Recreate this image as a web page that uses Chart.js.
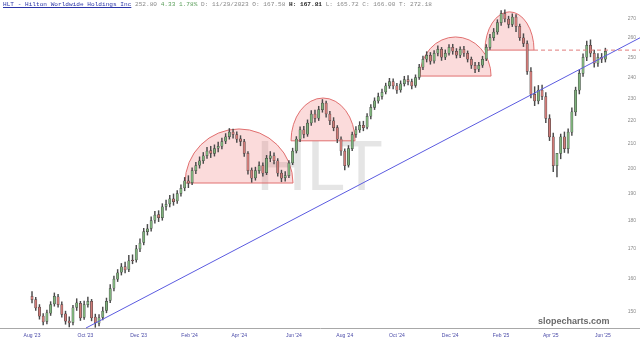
<!DOCTYPE html>
<html>
<head>
<meta charset="utf-8">
<script src="https://cdn.jsdelivr.net/npm/chart.js@4.4.1/dist/chart.umd.min.js"></script>
<style>
  body { margin: 0; background: #fff; }
  #wrap { position: relative; width: 640px; height: 345px; overflow: hidden; }
  #mark { position: absolute; left: 256px; top: 131px; font: 70px "Liberation Sans", Arial, sans-serif; line-height: 70px; color: rgba(0,0,0,0.10); z-index: 0; }
  #c { position: absolute; left: 0; top: 0; z-index: 1; }
  #head { position: absolute; left: 3px; top: 1px; z-index: 2; font-family: "Liberation Mono", "DejaVu Sans Mono", monospace; font-size: 6.2px; line-height: 8px; color: #888; white-space: pre; }
  #head a { color: #2a35a8; text-decoration: underline; }
  #head .up { color: #5a9e5a; }
  #head b { color: #222; }
  #logo { position: absolute; left: 538px; top: 317px; z-index: 2; font: bold 9px "Liberation Sans", Arial, sans-serif; line-height: 9px; color: #6a6a6a; white-space: nowrap; }
</style>
</head>
<body>
<div id="wrap">
  <div id="mark">HLT</div>
  <canvas id="c" width="640" height="345"></canvas>
  <div id="head"><a>HLT - Hilton Worldwide Holdings Inc</a> 252.80 <span class="up">4.33 1.78%</span> D: 11/29/2023 O: 167.58 <b>H: 167.81</b> L: 165.72 C: 166.00 T: 272.18</div>
  <div id="logo">slopecharts.com</div>
</div>
<script>
// one candle every 3 trading days, x = trading day index from Aug 1 2023
var step = 3;
var opens = [154.5,153.5,151.2,148.5,146.9,149.4,152.2,154.4,152,149.2,147,146.6,151.1,152.4,148.1,152,153,148.2,146.4,148.1,
  150.2,153.3,157.1,160,162.2,164.1,163.1,166.2,166.3,170,172.2,176,177.2,180.1,182.2,181,185.2,186.1,188,187.2,
  190.1,192.2,195,194.2,199,201.2,203,205.1,207.2,206,208.2,209,211.2,213.1,215,214,212.1,211,206,199.2,
  196.1,199,201,198.2,204,205,203,198,196.2,197,202.1,207,212,216,214.1,219,223,221.2,225,228,
  223,220,217,212,207,201.2,208,214,216,218,217.2,222,226,229,231,233.1,236,238,236,234.1,
  237,239,238,236.2,240,245,249,251,248.1,252,254,250,252.1,255,253,251,254,252,249,246,
  244.1,246,249.2,255,260,263,268,273,270,267.1,271,266,260,257,243,232,229,234,231,221,
  213,201,206,213,208,215,224,234,242,250,256,252,247,250,249];
var highs = [156,154.2,152,149.3,150.3,152.9,155.6,155.2,152.8,150,148.3,151.8,153.8,153,153.1,154.3,153.6,149.1,149,151.2,
  154,158.2,161,163.1,165.1,165.6,167.8,168,171.2,173.5,177.2,178.6,181.3,183.4,183.6,186.2,187.6,189.4,189.9,191.2,
  193.4,196.3,197,200.1,202.4,204.6,206.4,208.6,209,209.6,210.8,212.5,214.4,216.6,216.4,215.2,213.5,211.9,206.8,200.1,
  200.4,202.6,202.1,205.2,206.8,206.3,203.9,199.2,198.6,203.1,208.2,213.1,217.3,217.6,220.4,224.5,224.8,226.5,229.6,228.9,
  224.2,221.4,217.9,213,207.9,209.3,215.1,217.4,219.6,219.8,223.2,227.3,230.4,232.6,234.5,237.3,239.6,239.4,237.2,238.4,
  240.6,240.9,239.3,241.3,246.4,250.6,252.8,252.4,253.4,255.8,255,253.7,256.5,256.6,254.4,255.3,255.6,253.2,250.1,247.5,
  247.4,250.5,256.4,261.8,264.9,269.6,274.6,275,271.5,272.8,272.4,267.2,262.1,258.4,244.8,235.6,236.2,236.4,232.8,222.7,
  214.6,205.4,214.2,215.1,216.5,225.8,235.4,243.6,251.7,258.2,258.9,253.6,251.8,251.9,254.6];
var lows = [152.5,150.2,147.6,145.9,146.2,148.7,151.5,151.2,148.2,146.1,145.3,145.9,150.2,147.2,147.5,151.2,147.1,145.2,145.6,147.4,
  149.5,152.6,156.2,159.2,161.3,162,162.4,165,165.5,169.1,171.4,174.8,176.2,179,179.6,180.1,183.8,185,185.6,186.3,
  189,191.1,192.3,193.5,197.8,200,201.9,204,204.3,204.9,206.6,207.9,210.1,212,212.4,210.6,209.2,204.8,197.6,194.4,
  195.2,197.9,196.8,197.4,202.6,201.7,196.8,194.6,194.8,196.2,201.4,206.2,210.9,212.5,213.2,218,219.4,220.1,223.8,221.6,
  218.3,215.6,210.5,205.2,199.3,200.4,207.2,212.8,214.9,215.6,216.4,220.8,225,227.9,229.8,232.2,234.8,234.6,232.5,233,
  235.9,236.5,234.6,235.3,239.1,243.8,247.6,246.5,247,250.6,248.4,248.8,251,251.5,249.6,249.8,250.4,247.6,244.4,242.3,
  242.8,244.9,248.3,253.9,258.6,261.8,266.5,268.4,265.2,265.9,263.2,258.6,255.4,241.5,230.4,226.8,227.6,229.5,219.2,211.4,
  198.6,196.5,203.8,206.4,206.1,213.6,222.3,232.2,240.5,248.3,250.2,245.1,245.4,247.3,247.6];
var closes = [153.5,151,148.5,146.8,149.5,152,154.5,152,149,147,146.5,151,152.5,148,152,153,148,146.5,148,150,
  153,157,160,162,164,163,166,166,170,172,176,177,180,182,181,185,186,188,187,190,
  192,195,194,199,201,203,205,207,206,208,209,211,213,215,214,212,211,206,199,196,
  199,201,198,204,205,203,198,196,197,202,207,212,216,214,219,223,221,225,228,223,
  220,217,212,207,201,208,214,216,218,217,222,226,229,231,233,236,238,236,234,237,
  239,238,236,240,245,249,251,248,252,254,250,252,255,253,251,254,252,249,246,244,
  246,249,255,260,263,268,273,270,267,271,266,260,257,243,232,229,234,231,221,213,
  201,206,213,208,215,224,234,242,250,256,252,247,250,249,253];

// x axis month labels (trading day index of first session)
var tickDays = [0,43,86,127,167,211,252,294,337,378,418,460];
var tickLabels = ["Aug '23","Oct '23","Dec '23","Feb '24","Apr '24","Jun '24","Aug '24","Oct '24","Dec '24","Feb '25","Apr '25","Jun '25"];
var priceTicks = [150,160,170,180,190,200,210,220,230,240,250,260,270];

// rounded tops (start day, end day, base price, top price)
var arcFrom = [123.3, 208.7, 312.6, 365];
var arcTo = [210.3, 260.3, 369.9, 404.5];
var arcBase = [194.1, 211.3, 240.7, 253.6];
var arcTop = [216.4, 230.3, 260.4, 273.9];

var trendDays = [43.5, 490];
var trendPrices = [145, 260];
var levelDays = [404.5, 490];
var levelPrice = 253.6;

var wicks = [], bodies = [], bodyColors = [];
for (var k = 0; k < closes.length; k++) {
  wicks.push({x: k * step, y: [lows[k], highs[k]]});
  bodies.push({x: k * step, y: [opens[k], closes[k]]});
  bodyColors.push(closes[k] >= opens[k] ? '#7fb27c' : '#cf7b78');
}

var arcs = {
  id: 'arcs',
  beforeDatasetsDraw: function(chart) {
    var ctx = chart.ctx, xs = chart.scales.x, ys = chart.scales.y;
    ctx.save();
    for (var i = 0; i < arcFrom.length; i++) {
      var x1 = xs.getPixelForValue(arcFrom[i]);
      var x2 = xs.getPixelForValue(arcTo[i]);
      var yb = ys.getPixelForValue(arcBase[i]);
      var yt = ys.getPixelForValue(arcTop[i]);
      ctx.beginPath();
      ctx.ellipse((x1 + x2) / 2, yb, (x2 - x1) / 2, yb - yt, 0, Math.PI, 2 * Math.PI);
      ctx.closePath();
      ctx.fillStyle = 'rgba(240,110,110,0.25)';
      ctx.fill();
      ctx.strokeStyle = 'rgba(220,90,90,0.85)';
      ctx.lineWidth = 1;
      ctx.stroke();
    }
    ctx.restore();
  }
};

new Chart(document.getElementById('c'), {
  type: 'bar',
  data: {
    datasets: [
      { type: 'line', data: [{x: trendDays[0], y: trendPrices[0]}, {x: trendDays[1], y: trendPrices[1]}],
        borderColor: '#5b5be0', borderWidth: 1, pointRadius: 0, order: 0, clip: false },
      { type: 'line', data: [{x: levelDays[0], y: levelPrice}, {x: levelDays[1], y: levelPrice}],
        borderColor: '#e07b7b', borderWidth: 1, borderDash: [4, 3], pointRadius: 0, order: 0 },
      { data: bodies, backgroundColor: bodyColors, borderColor: '#3b3b3b', borderWidth: 0.5,
        borderSkipped: false, barThickness: 2.3, grouped: false, order: 1 },
      { data: wicks, backgroundColor: '#4a4a4a', barThickness: 0.8, grouped: false, order: 2 }
    ]
  },
  options: {
    responsive: false,
    animation: false,
    layout: { padding: 0, autoPadding: false },
    plugins: { legend: { display: false }, tooltip: { enabled: false } },
    scales: {
      x: {
        type: 'linear', min: -25.8, max: 489.9, offset: false,
        grid: { display: false, drawTicks: false, offset: false },
        border: { display: true, color: '#a8a8a8' },
        ticks: { font: { size: 5, family: 'Liberation Sans' }, color: '#4a4aa8', padding: 5, maxRotation: 0, autoSkip: false,
          callback: function(v, i) { return tickLabels[i]; } },
        afterBuildTicks: function(s) { s.ticks = tickDays.map(function(d) { return {value: d}; }); },
        afterFit: function(s) { s.height = 17; }
      },
      y: {
        type: 'logarithmic', position: 'right', min: 145, max: 280.5,
        grid: { display: false, drawTicks: false },
        border: { display: false },
        ticks: { mirror: true, padding: -4, font: { size: 5, family: 'Liberation Sans' }, color: '#8a8a8a', autoSkip: false,
          callback: function(v) { return String(v); } },
        afterBuildTicks: function(s) { s.ticks = priceTicks.map(function(p) { return {value: p}; }); },
        afterFit: function(s) { s.width = 0; }
      }
    }
  },
  plugins: [arcs]
});

// size the header so the line spans the same width as the original
var head = document.getElementById('head');
var w = head.getBoundingClientRect().width;
if (w > 0) head.style.fontSize = (6.2 * 429 / w).toFixed(2) + 'px';
</script>
</body>
</html>
